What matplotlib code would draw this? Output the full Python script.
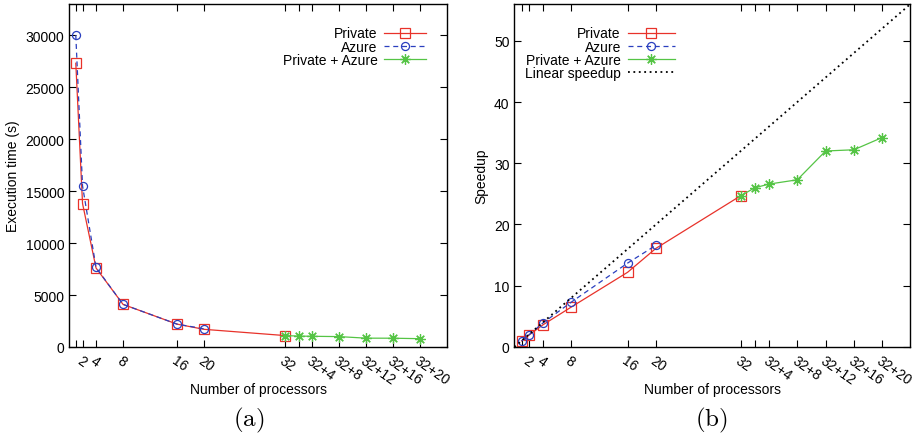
import matplotlib
matplotlib.use("Agg")
import matplotlib.pyplot as plt
import numpy as np

plt.rcParams['font.family'] = ['Liberation Sans', 'DejaVu Sans']
plt.rcParams['mathtext.fontset'] = 'cm'

# processor counts
procs_private = [1, 2, 4, 8, 16, 20, 32]
procs_azure = [1, 2, 4, 8, 16, 20]
procs_hybrid = [32, 34, 36, 40, 44, 48, 52]

# execution time (s)
time_private = [27300, 13800, 7600, 4100, 2200, 1700, 1100]
time_azure = [30000, 15500, 7650, 4100, 2200, 1750]
time_hybrid = [1100, 1050, 1030, 1000, 850, 845, 800]

# speedup
speed_private = [1.0, 1.9, 3.6, 6.5, 12.2, 16.1, 24.7]
speed_azure = [1.0, 1.95, 3.9, 7.3, 13.7, 16.6]
speed_hybrid = [24.7, 26.0, 26.6, 27.3, 32.0, 32.2, 34.2]

tick_pos = [1, 2, 4, 8, 16, 20, 32, 34, 36, 40, 44, 48, 52]
tick_lbl = ['', '2', '4', '8', '16', '20', '32', '', '32+4', '32+8', '32+12', '32+16', '32+20']

red = '#e8322a'
blue = '#2a3fbf'
green = '#55c445'

fig = plt.figure(figsize=(9.23, 4.39), dpi=100)
ax1 = fig.add_axes([0.0748, 0.2073, 0.4095, 0.7813])
ax2 = fig.add_axes([0.5574, 0.2073, 0.4290, 0.7813])

def style(ax):
    ax.set_xlim(0, 56)
    ax.set_xticks(tick_pos)
    ax.set_xticklabels(tick_lbl, rotation=-35, ha='left', va='top', rotation_mode='anchor')
    ax.tick_params(direction='in', top=True, right=True, labelsize=10, length=5, width=0.8)
    ax.tick_params(axis='x', pad=4)
    for s in ax.spines.values():
        s.set_linewidth(1.0)
    ax.set_xlabel('Number of processors', fontsize=10, labelpad=-3)

mk_sq = dict(marker='s', markersize=7, markerfacecolor='none', markeredgewidth=0.9)
mk_ci = dict(marker='o', markersize=5.8, markerfacecolor='none', markeredgewidth=0.9)
mk_st = dict(marker=(8, 2, 0), markersize=7.5, markeredgewidth=0.9)

leg_kw = dict(frameon=False, markerfirst=False, fontsize=10, labelspacing=-0.06,
              borderpad=0, handletextpad=0.5)

ax1.plot(procs_private, time_private, color=red, lw=0.9, label='Private', **mk_sq)
ax1.plot(procs_azure, time_azure, color=blue, lw=0.9, ls=(0, (4, 3)), label='Azure', **mk_ci)
ax1.plot(procs_hybrid, time_hybrid, color=green, lw=0.9, label='Private + Azure', **mk_st)
style(ax1)
ax1.set_ylim(0, 33000)
ax1.set_yticks(np.arange(0, 30001, 5000))
ax1.set_ylabel('Execution time (s)', fontsize=10)
ax1.legend(loc='upper right', bbox_to_anchor=(0.963, 0.955), handlelength=3.0, **leg_kw)

lin = np.array([0, 56])
ax2.plot(procs_private, speed_private, color=red, lw=0.9, label='Private', **mk_sq)
ax2.plot(procs_azure, speed_azure, color=blue, lw=0.9, ls=(0, (4, 3)), label='Azure', **mk_ci)
ax2.plot(procs_hybrid, speed_hybrid, color=green, lw=0.9, label='Private + Azure', **mk_st)
ax2.plot(lin, lin, color='black', lw=1.3, ls=(0, (1, 2)), label='Linear speedup')
style(ax2)
ax2.set_ylim(0, 56)
ax2.set_yticks(np.arange(0, 51, 10))
ax2.set_ylabel('Speedup', fontsize=10)
ax2.legend(loc='upper right', bbox_to_anchor=(0.423, 0.955), handlelength=3.4, **leg_kw)

fig.text(0.269, 0.028, r'$\mathrm{(a)}$', fontsize=18, ha='center')
fig.text(0.771, 0.028, r'$\mathrm{(b)}$', fontsize=18, ha='center')

fig.savefig('out.png', dpi=100)
